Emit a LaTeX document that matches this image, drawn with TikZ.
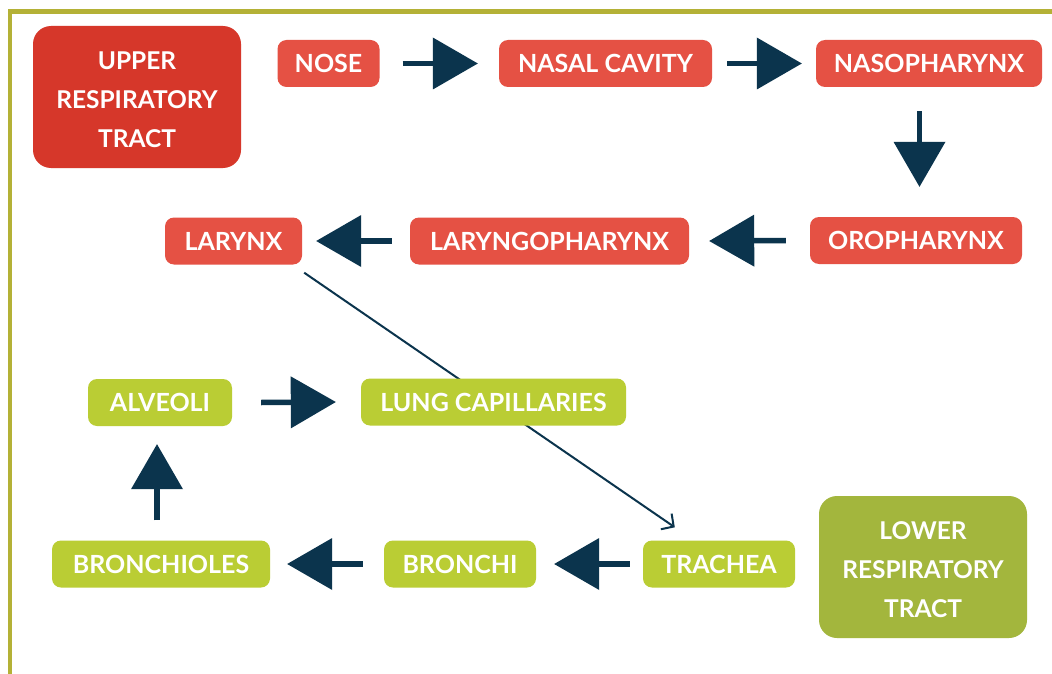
\documentclass[tikz,border=0pt]{standalone}
\usepackage{fontspec}
\setmainfont{Lato}
\usetikzlibrary{arrows.meta,backgrounds}
\definecolor{upred}{HTML}{D6372A}
\definecolor{boxred}{HTML}{E55144}
\definecolor{lowgreen}{HTML}{A3B63D}
\definecolor{boxgreen}{HTML}{BACD34}
\definecolor{navy}{HTML}{0B344D}
\definecolor{frame}{HTML}{B4B136}
\tikzset{
  box/.style={rounded corners=9pt, text=white, inner sep=0pt, align=center,
    font=\bfseries\fontsize{25}{29}\selectfont, minimum height=47pt},
  redbox/.style={box, fill=boxred},
  greenbox/.style={box, fill=boxgreen},
  tract/.style={box, rounded corners=18pt, minimum width=208pt, minimum height=142pt,
    font=\bfseries\fontsize{24.5}{39}\selectfont},
  bigarrow/.style={draw=navy, line width=5.5pt, -{Triangle[length=45pt,width=52pt,line width=0pt]}},
  thinarrow/.style={draw=navy, line width=2pt, -{Straight Barb[length=9pt,width=19pt,line width=2pt]}}
}
\begin{document}
\begin{tikzpicture}[x=1pt,y=-1pt]
\useasboundingbox (0,0) rectangle (1052,674);
% nodes
\node[tract, fill=upred] (upper) at (137,97) {\rule{0pt}{24pt}UPPER\\RESPIRATORY\\TRACT};
\node[redbox, minimum width=102pt] (nose) at (328.5,63.5) {NOSE};
\node[redbox, minimum width=213pt] (nasal) at (605.5,63.5) {NASAL CAVITY};
\node[redbox, minimum width=226pt] (naso) at (929,63.5) {NASOPHARYNX};
\node[redbox, minimum width=212pt] (oro) at (916,240.5) {OROPHARYNX};
\node[redbox, minimum width=279pt] (laryngo) at (549.5,241) {LARYNGOPHARYNX};
\node[redbox, minimum width=137pt] (larynx) at (233.5,241) {LARYNX};
\node[greenbox, minimum width=144pt] (alveoli) at (160,402.5) {ALVEOLI};
\node[greenbox, minimum width=265pt] (lung) at (493.5,402) {LUNG CAPILLARIES};
\node[greenbox, minimum width=218pt] (bronchioles) at (161,564) {BRONCHIOLES};
\node[greenbox, minimum width=152pt] (bronchi) at (460,564) {BRONCHI};
\node[greenbox, minimum width=152pt] (trachea) at (719,564) {TRACHEA};
\node[tract, fill=lowgreen] (lower) at (923,567) {\rule{0pt}{24pt}LOWER\\RESPIRATORY\\TRACT};
% connectors
\draw[bigarrow] ([xshift=23pt]nose.east) -- ([xshift=-21pt]nasal.west);
\draw[bigarrow] ([xshift=15pt]nasal.east) -- ([xshift=-14pt]naso.west);
\draw[bigarrow] ([xshift=-9.5pt,yshift=-24pt]naso.south) -- ([xshift=3.5pt,yshift=30pt]oro.north);
\draw[bigarrow] ([xshift=-24pt]oro.west) -- ([xshift=20pt]laryngo.east);
\draw[bigarrow] ([xshift=-18pt]laryngo.west) -- ([xshift=14pt]larynx.east);
\draw[bigarrow] ([xshift=-13pt]trachea.west) -- ([xshift=18pt]bronchi.east);
\draw[bigarrow] ([xshift=-21pt]bronchi.west) -- ([xshift=17pt]bronchioles.east);
\draw[bigarrow] ([xshift=-4pt,yshift=20pt]bronchioles.north) -- ([xshift=-3pt,yshift=-18pt]alveoli.south);
\draw[bigarrow] ([xshift=29pt]alveoli.east) -- ([xshift=-25pt]lung.west);
\begin{pgfonlayer}{background}
\fill[white] (0,0) rectangle (1052,674);
\draw[frame, line width=4.5pt] (10,674) -- (10,11.5) -- (1052,11.5);
\draw[thinarrow] ([xshift=2pt,yshift=-8pt]larynx.south east) -- ([xshift=32pt,yshift=13pt]trachea.north west);
\end{pgfonlayer}
\end{tikzpicture}
\end{document}
